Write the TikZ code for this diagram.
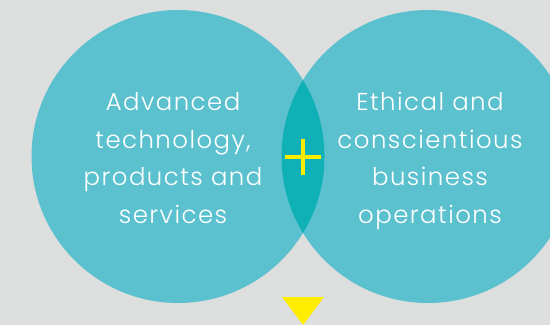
\documentclass[tikz,border=0pt]{standalone}
\usepackage{fontspec}
\setmainfont{Poppins}[UprightFont=* Light,LetterSpace=6]
\definecolor{bggray}{RGB}{221,222,222}
\definecolor{disc}{RGB}{92,193,207}
\definecolor{lens}{RGB}{15,177,182}
\definecolor{plusyellow}{RGB}{255,237,0}

\begin{document}
\begin{tikzpicture}[x=0.5pt,y=-0.5pt,
	disc/.style={circle,fill=disc,minimum size=146.5pt,inner sep=0pt},
	words/.style={text=white,align=center,anchor=base,font=\fontsize{12.2}{18.75}\selectfont}]
	\fill[bggray] (0,0) rectangle (550,325);
	\useasboundingbox (0,0) rectangle (550,325);
	\clip (0,0) rectangle (550,325);
	\node[disc] (left) at (178,156.5) {};
	\node[disc] (right) at (428,156.5) {};
	\begin{scope}
		\clip (left.center) circle[radius=146.5];
		\fill[lens] (right.center) circle[radius=146.5];
	\end{scope}
	\draw[plusyellow,line width=2pt] (285,157) -- (321,157) (303,139) -- (303,175);
	\fill[plusyellow] (282,297) -- (324,297) -- (303,325) -- cycle;
	% base anchor sits on the last line
	\node[words] (ltext) at (173,223.5) {Advanced\\technology,\\products and\\services};
	\node[words] (rtext) at (430,223.5) {Ethical and\\conscientious\\business\\operations};
\end{tikzpicture}
\end{document}
